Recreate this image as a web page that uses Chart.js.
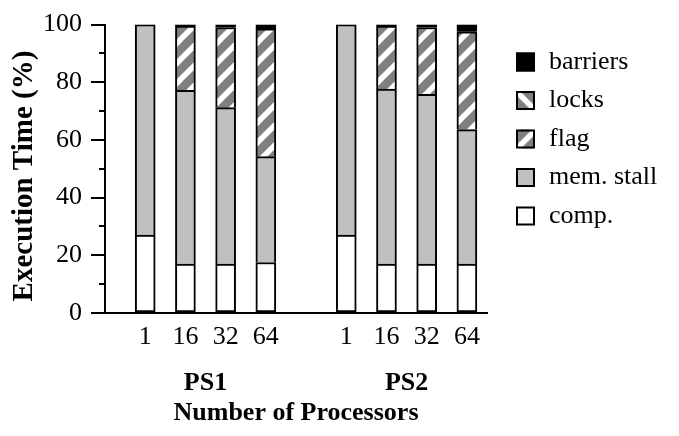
<!DOCTYPE html>
<html>
<head>
<meta charset="utf-8">
<script src="https://cdn.jsdelivr.net/npm/chart.js@4/dist/chart.umd.min.js"></script>
<style>
	body { margin: 0; background: #fff; }
	canvas { display: block; }
</style>
</head>
<body>
<canvas id="chart" width="679" height="436"></canvas>
<script>
const procLabels = ["1", "16", "32", "64"];
const groupLabels = ["PS1", "PS2"];

// execution time breakdown (%), PS1 bars then PS2 bars
const comp = [27, 17, 17, 17.5, 27, 17, 17, 17];
const memStall = [73, 60.2, 54.2, 36.7, 73, 60.6, 58.8, 46.6];
const flag = [0, 22.3, 27.8, 44.3, 0, 21.9, 23.2, 33.9];
const locks = [0, 0, 0, 0, 0, 0, 0, 0];
const barriers = [0, 0.5, 1, 1.5, 0, 0.5, 1, 2.5];

const yTicks = [0, 20, 40, 60, 80, 100];
const yMinorTicks = [10, 30, 50, 70, 90];

const FONT = "'Liberation Serif', 'Times New Roman', serif";

// bar slots: one empty slot between the two groups
const slots = groupLabels.flatMap((g, gi) => procLabels.map((p, pi) => gi * (procLabels.length + 1) + pi + 1));
const groupCenters = groupLabels.map((g, gi) => gi * (procLabels.length + 1) + (procLabels.length + 1) / 2);

function stripes(dir) {
	const s = 20;
	const c = document.createElement("canvas");
	c.width = s;
	c.height = s;
	const g = c.getContext("2d");
	g.fillStyle = "#808080";
	g.fillRect(0, 0, s, s);
	g.strokeStyle = "#fff";
	g.lineWidth = 5.5;
	for (const o of [-s, 0, s]) {
		g.beginPath();
		if (dir === "/") {
			g.moveTo(o - 3, s + 3);
			g.lineTo(o + s + 3, -3);
		} else {
			g.moveTo(o - 3, -3);
			g.lineTo(o + s + 3, s + 3);
		}
		g.stroke();
	}
	return g.createPattern(c, "repeat");
}

const ctx = document.getElementById("chart").getContext("2d");
const flagPattern = stripes("/");
const locksPattern = stripes("\\");

const series = [
	{ label: "comp.", values: comp, fill: "#ffffff" },
	{ label: "mem. stall", values: memStall, fill: "#c0c0c0" },
	{ label: "flag", values: flag, fill: flagPattern },
	{ label: "locks", values: locks, fill: locksPattern },
	{ label: "barriers", values: barriers, fill: "#000000" },
];

const minorTicks = {
	id: "minorTicks",
	afterDraw(chart) {
		const y = chart.scales.y;
		const left = chart.chartArea.left;
		const c = chart.ctx;
		c.save();
		c.strokeStyle = "#000";
		c.lineWidth = 2;
		yMinorTicks.forEach((v) => {
			const py = Math.round(y.getPixelForValue(v));
			c.beginPath();
			c.moveTo(left - 6, py);
			c.lineTo(left, py);
			c.stroke();
		});
		c.restore();
	},
};

const sideLegend = {
	id: "sideLegend",
	afterDraw(chart) {
		const c = chart.ctx;
		const items = chart.data.datasets.slice().reverse();
		c.save();
		c.font = "26px " + FONT;
		c.textBaseline = "middle";
		c.fillStyle = "#000";
		items.forEach((ds, i) => {
			const cy = 62 + i * 38.5;
			const bx = 516;
			const by = cy - 9.5;
			c.save();
			c.translate(bx, by);
			c.fillStyle = ds.backgroundColor;
			c.fillRect(0, 0, 19, 19);
			c.strokeStyle = "#000";
			c.lineWidth = 2;
			c.strokeRect(1, 1, 17, 17);
			c.restore();
			c.fillText(ds.label, 549, cy);
		});
		c.restore();
	},
};

new Chart(ctx, {
	type: "bar",
	data: {
		datasets: series.map((s, i) => ({
			label: s.label,
			data: s.values.map((v, j) => ({ x: slots[j], y: v })),
			backgroundColor: s.fill,
			borderColor: "#000",
			borderWidth: 2,
			borderSkipped: i === 0 ? false : "bottom",
			barThickness: 20,
		})),
	},
	options: {
		responsive: false,
		animation: false,
		layout: {
			padding: { left: 0, right: 192, top: 21.5, bottom: 0 },
		},
		plugins: {
			legend: { display: false },
			tooltip: { enabled: false },
		},
		scales: {
			x: {
				type: "linear",
				stacked: true,
				offset: false,
				min: 0,
				max: 9.5,
				weight: 0,
				afterBuildTicks: (scale) => {
					scale.ticks = slots.map((v) => ({ value: v }));
				},
				afterFit: (scale) => {
					scale.height = 48;
				},
				ticks: {
					callback: (value, index) => procLabels[index % procLabels.length],
					autoSkip: false,
					maxRotation: 0,
					padding: 9,
					color: "#000",
					font: { family: FONT, size: 26 },
				},
				grid: { offset: false, drawOnChartArea: false, drawTicks: false },
				border: { color: "#000", width: 2 },
			},
			xg: {
				type: "linear",
				position: "bottom",
				offset: false,
				min: 0,
				max: 9.5,
				weight: 1,
				afterBuildTicks: (scale) => {
					scale.ticks = groupCenters.map((v) => ({ value: v }));
				},
				afterFit: (scale) => {
					scale.height = 75;
				},
				ticks: {
					callback: (value, index) => groupLabels[index],
					autoSkip: false,
					maxRotation: 0,
					padding: 7,
					color: "#000",
					font: { family: FONT, size: 26, weight: "bold" },
				},
				grid: { offset: false, display: false, drawTicks: false },
				border: { display: false },
				title: {
					display: true,
					text: "Number of Processors",
					color: "#000",
					font: { family: FONT, size: 26, weight: "bold" },
					padding: { top: 0, bottom: 7 },
				},
			},
			y: {
				stacked: true,
				min: 0,
				max: 100,
				afterBuildTicks: (scale) => {
					scale.ticks = yTicks.map((v) => ({ value: v }));
				},
				afterFit: (scale) => {
					scale.width = 105;
				},
				ticks: {
					padding: 9,
					color: "#000",
					font: { family: FONT, size: 26 },
				},
				grid: {
					drawOnChartArea: false,
					tickLength: 14,
					lineWidth: 2,
					color: "#000",
				},
				border: { color: "#000", width: 2 },
				title: {
					display: true,
					text: "Execution Time (%)  ",
					color: "#000",
					font: { family: FONT, size: 29, weight: "bold" },
					padding: { top: 7, bottom: 0 },
				},
			},
		},
	},
	plugins: [minorTicks, sideLegend],
});
</script>
</body>
</html>
